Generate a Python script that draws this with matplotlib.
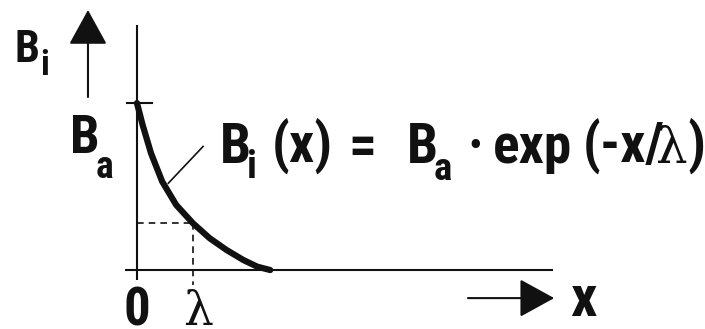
import matplotlib
matplotlib.use("Agg")
import matplotlib.pyplot as plt
from matplotlib import font_manager

# penetration profile, x in units of lambda, B in units of B_a
curve_x = [0.0, 0.1, 0.25, 0.45, 0.7, 1.0, 1.3, 1.6, 1.9, 2.15, 2.38]
curve_y = [1.0, 0.87, 0.70, 0.53, 0.39, 0.28, 0.19, 0.12, 0.06, 0.02, 0.0]
lam_x = 1.0
lam_y = 0.28
tick_labels = ["0", "λ"]


def pick_family():
    """first narrow sans family that has a bold face"""
    fonts = font_manager.fontManager.ttflist
    for fam in ["Liberation Sans Narrow", "Roboto Condensed", "Archivo Narrow",
                "PT Sans Narrow", "Barlow Condensed"]:
        if any(f.name == fam and f.weight in (700, "bold") for f in fonts):
            return fam
    return "DejaVu Sans"


FAM = pick_family()
INK = "#111111"

fig = plt.figure(figsize=(7.05, 3.29), dpi=100)
ax = fig.add_axes([0, 0, 1, 1])
ax.set_xlim(-2.446, 10.143)
ax.set_ylim(-0.353, 1.617)
ax.axis("off")

# axes lines
ax.plot([0, 0], [-0.06, 1.467], color=INK, lw=1.5, solid_capstyle="butt")
ax.plot([-0.21, 7.43], [0, 0], color=INK, lw=1.5, solid_capstyle="butt")
ax.plot([-0.18, 0.27], [1.0, 1.0], color=INK, lw=1.5)

# dashed guides at x = lambda
ax.plot([0, lam_x], [lam_y, lam_y], color=INK, lw=1.2, ls=(0, (4, 3)))
ax.plot([lam_x, lam_x], [lam_y, -0.09], color=INK, lw=1.2, ls=(0, (4, 3)))

# the curve
ax.plot(curve_x, curve_y, color=INK, lw=4.5, solid_capstyle="round",
        solid_joinstyle="round")

# leader line to the formula
ax.plot([0.56, 1.18], [0.52, 0.74], color=INK, lw=1.2)

# direction arrows
arrow = dict(arrowstyle="-|>,head_length=1.0,head_width=0.55",
             mutation_scale=22, lw=1.5, color=INK, shrinkA=0, shrinkB=0)
ax.annotate("", xy=(-0.875, 1.557), xytext=(-0.875, 1.036), arrowprops=arrow)
ax.annotate("", xy=(7.45, -0.168), xytext=(5.91, -0.168), arrowprops=arrow)

bold = dict(family=FAM, weight=800, stretch="condensed", color=INK,
            va="baseline", ha="left")

# axis names
ax.text(-2.18, 1.246, "B", fontsize=32, **bold)
ax.text(-1.72, 1.168, "i", fontsize=25, **bold)
ax.text(-1.196, 0.70, "B", fontsize=38, **bold)
ax.text(-0.74, 0.55, "a", fontsize=27, **bold)
ax.text(7.73, -0.275, "x", fontsize=42, **bold)

# tick labels
ax.text(0, -0.33, tick_labels[0], fontsize=38,
        **{**bold, "ha": "center"})
ax.text(lam_x + 0.09, -0.33, tick_labels[1], fontsize=34, family="DejaVu Serif",
        color=INK, ha="center", va="baseline")

# formula
fy = 0.641
ax.text(1.482, fy, "B", fontsize=40, **bold)
ax.text(1.97, 0.551, "i", fontsize=28, **bold)
ax.text(2.41, fy, "(x)", fontsize=40, **bold)
ax.text(3.77, fy, "=", fontsize=40, **bold)
ax.text(4.82, fy, "B", fontsize=40, **bold)
ax.text(5.30, 0.539, "a", fontsize=28, **bold)
ax.text(5.90, fy, "·", fontsize=40, **bold)
ax.text(6.357, fy, "exp", fontsize=40, **bold)
ax.text(7.96, fy, "(-x/", fontsize=40, **bold)
ax.text(9.26, fy, "λ", fontsize=36, family="DejaVu Serif", color=INK,
        va="baseline", ha="left")
ax.text(9.83, fy, ")", fontsize=40, **bold)

fig.savefig("out.png", dpi=100, facecolor="white")
